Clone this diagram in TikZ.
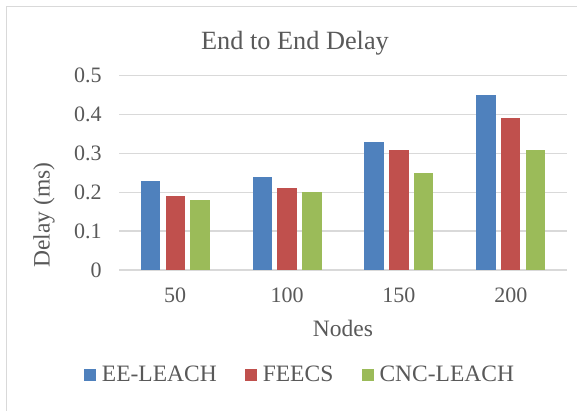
\documentclass[tikz,border=0pt]{standalone}
\usepackage{fontspec}
\setmainfont{Liberation Serif}
\definecolor{txt}{HTML}{595959}
\definecolor{gridc}{HTML}{D9D9D9}
\definecolor{framec}{HTML}{D9D9D9}
\definecolor{sblue}{HTML}{4F81BD}
\definecolor{sred}{HTML}{C0504D}
\definecolor{sgreen}{HTML}{9BBB59}
\begin{document}
\begin{tikzpicture}[x=1pt,y=-1pt,
  gridline/.style={gridc, line width=1.4pt},
  lbl/.style={text=txt, inner sep=0pt, font=\fontsize{22}{24}\selectfont},
  biglbl/.style={text=txt, inner sep=0pt, font=\fontsize{23.5}{26}\selectfont},
  titlelbl/.style={text=txt, inner sep=0pt, font=\fontsize{26.3}{29}\selectfont},
  keybox/.style={inner sep=0pt, minimum size=12pt, draw=none}]
% canvas and chart frame
\useasboundingbox (0,0) rectangle (577,411);
\fill[white] (0,0) rectangle (577,411);
\draw[framec, line width=1.6pt] (6.5,411) -- (6.5,6.5) -- (577,6.5);

% horizontal gridlines with value labels
\foreach \v in {0,...,5}{
  \pgfmathsetmacro{\yy}{270-\v*38.86}
  \draw[gridline] (119.3,\yy) -- (566.7,\yy);
  \ifnum\v=0
    \node[lbl, anchor=east] (tick\v) at (101.7,\yy) {0};
  \else
    \node[lbl, anchor=east] (tick\v) at (101.7,\yy) {0.\v};
  \fi
}

% bars: three series per category
\foreach \i/\cat/\a/\b/\c in {0/50/.23/.19/.18, 1/100/.24/.21/.20, 2/150/.33/.31/.25, 3/200/.45/.39/.31}{
  \pgfmathsetmacro{\cx}{119.3+111.85*(\i+0.5)}
  \fill[sblue]  (\cx-24.8-9.65,270) rectangle (\cx-24.8+9.65,270-\a*388.6);
  \fill[sred]   (\cx-9.65,270) rectangle (\cx+9.65,270-\b*388.6);
  \fill[sgreen] (\cx+24.8-9.65,270) rectangle (\cx+24.8+9.65,270-\c*388.6);
  \node[lbl, anchor=base] (cat\i) at (\cx,302.7) {\cat};
}

% titles
\node[titlelbl, anchor=base] (title) at (295,50) {End to End Delay};
\node[biglbl, anchor=base] (xtitle) at (343,336.7) {Nodes};
\node[biglbl, anchor=base, rotate=90] (ytitle) at (49.5,215) {Delay (ms)};

% legend
\node[keybox, fill=sblue,  anchor=north west] (k1) at (84,369) {};
\node[biglbl, anchor=base west] (l1) at (101.7,381.7) {EE-LEACH};
\node[keybox, fill=sred,   anchor=north west] (k2) at (244.9,369) {};
\node[biglbl, anchor=base west] (l2) at (262.6,381.7) {FEECS};
\node[keybox, fill=sgreen, anchor=north west] (k3) at (361.6,369) {};
\node[biglbl, anchor=base west] (l3) at (379.3,381.7) {CNC-LEACH};
\end{tikzpicture}
\end{document}
